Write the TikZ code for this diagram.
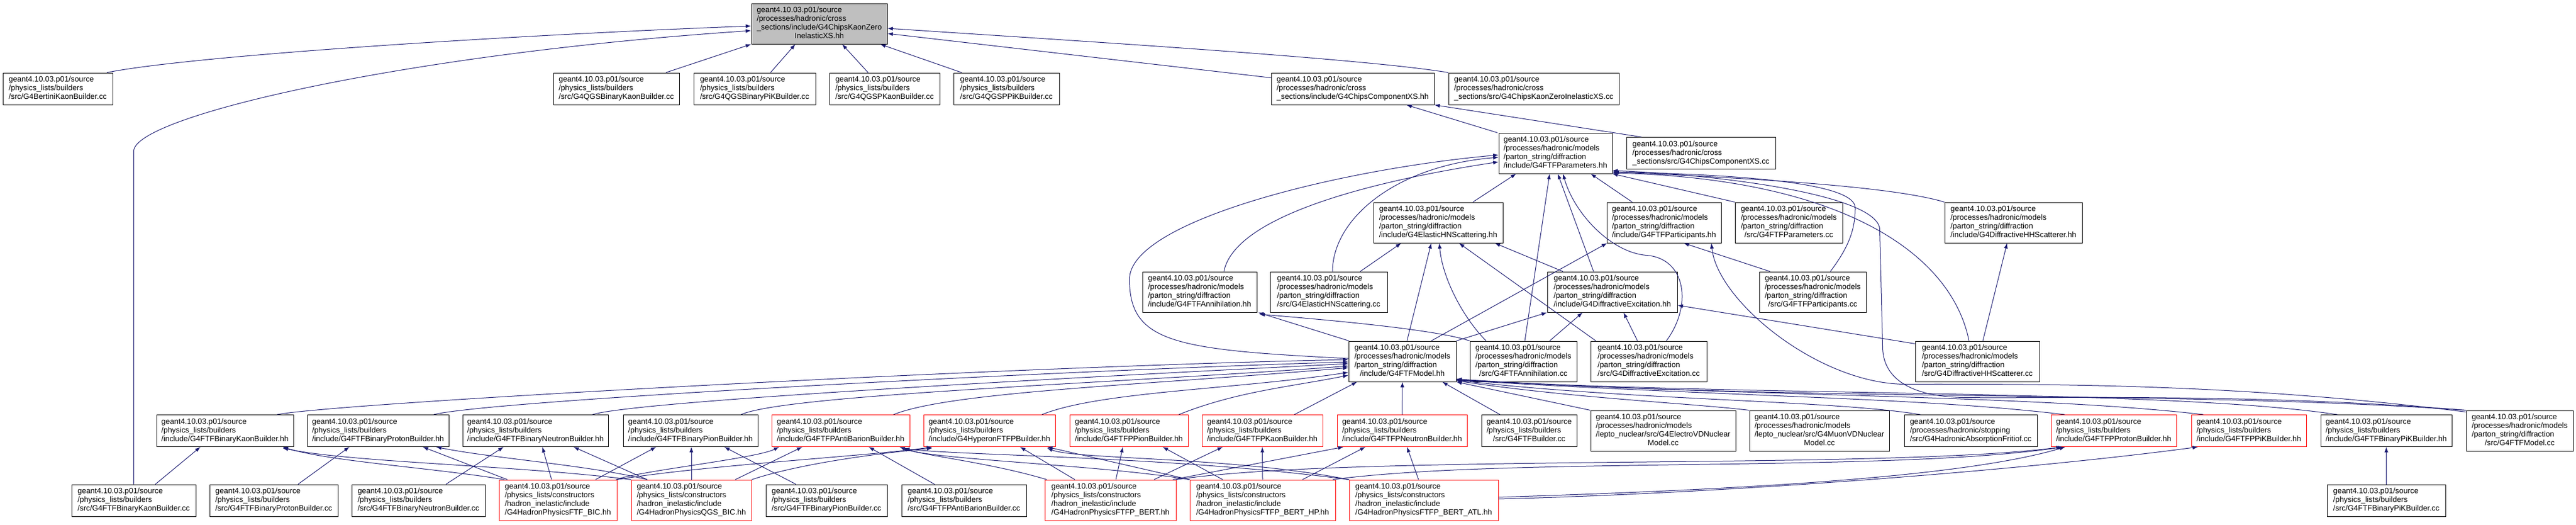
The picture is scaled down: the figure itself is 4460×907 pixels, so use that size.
\documentclass[tikz,border=0pt]{standalone}
\usepackage{fontspec}
\setmainfont{Liberation Sans}
\usetikzlibrary{arrows.meta,calc}
\definecolor{midblue}{HTML}{191970}
\definecolor{rootgray}{HTML}{BFBFBF}
% lines left aligned, last line centred
\newcommand{\doxlabel}[2]{\begin{tabular}{@{}l@{}}#1\\\multicolumn{1}{@{}c@{}}{#2}\end{tabular}}
\begin{document}
\begin{tikzpicture}[x=0.75pt,y=-0.75pt,
	file/.style={rectangle,draw=black,line width=0.75pt,fill=white,inner sep=0pt,minimum width=#1*0.75pt,font=\fontsize{10}{11.25}\selectfont},
	lines3/.style={minimum height=41.25pt},
	lines4/.style={minimum height=52.5pt},
	trunc/.style={draw=red},
	rootfile/.style={fill=rootgray},
	inc/.style={draw=midblue,line width=0.75pt,-{Latex[length=7pt,width=5pt]}}]
\useasboundingbox (0,0) rectangle (4460,907);
% row 1
\path (1418.5,41) node (kzh) [file=235,lines4,rootfile] {\doxlabel{geant4.10.03.p01/source\\/processes/hadronic/cross\\\_sections/include/G4ChipsKaonZero}{InelasticXS.hh}};
% row 2
\path (100,153.5)    node (bkb)     [file=190,lines3] {\doxlabel{geant4.10.03.p01/source\\/physics\_lists/builders}{/src/G4BertiniKaonBuilder.cc}}
      (1067,153.5)   node (qgsbk)   [file=218,lines3] {\doxlabel{geant4.10.03.p01/source\\/physics\_lists/builders}{/src/G4QGSBinaryKaonBuilder.cc}}
      (1306.5,153.5) node (qgsbpik) [file=211,lines3] {\doxlabel{geant4.10.03.p01/source\\/physics\_lists/builders}{/src/G4QGSBinaryPiKBuilder.cc}}
      (1531.5,153.5) node (qgspk)   [file=191,lines3] {\doxlabel{geant4.10.03.p01/source\\/physics\_lists/builders}{/src/G4QGSPKaonBuilder.cc}}
      (1742.5,153.5) node (qgsppik) [file=183,lines3] {\doxlabel{geant4.10.03.p01/source\\/physics\_lists/builders}{/src/G4QGSPPiKBuilder.cc}}
      (2342,153.5)   node (chcxsh)  [file=282,lines3] {\doxlabel{geant4.10.03.p01/source\\/processes/hadronic/cross}{\_sections/include/G4ChipsComponentXS.hh}}
      (2655.5,153.5) node (kzcc)    [file=295,lines3] {\doxlabel{geant4.10.03.p01/source\\/processes/hadronic/cross}{\_sections/src/G4ChipsKaonZeroInelasticXS.cc}};
% row 3
\path (2693,265) node (ftfparh) [file=196,lines4] {\doxlabel{geant4.10.03.p01/source\\/processes/hadronic/models\\/parton\_string/diffraction}{/include/G4FTFParameters.hh}}
      (2945,265) node (chcxscc) [file=258,lines3] {\doxlabel{geant4.10.03.p01/source\\/processes/hadronic/cross}{\_sections/src/G4ChipsComponentXS.cc}};
% row 4
\path (2490,385) node (elhnh)    [file=224,lines4] {\doxlabel{geant4.10.03.p01/source\\/processes/hadronic/models\\/parton\_string/diffraction}{/include/G4ElasticHNScattering.hh}}
      (2881,385) node (ftfparth) [file=198,lines4] {\doxlabel{geant4.10.03.p01/source\\/processes/hadronic/models\\/parton\_string/diffraction}{/include/G4FTFParticipants.hh}}
      (3097,385) node (ftfparcc) [file=186,lines4] {\doxlabel{geant4.10.03.p01/source\\/processes/hadronic/models\\/parton\_string/diffraction}{/src/G4FTFParameters.cc}}
      (3486,385) node (dhhsh)    [file=238,lines4] {\doxlabel{geant4.10.03.p01/source\\/processes/hadronic/models\\/parton\_string/diffraction}{/include/G4DiffractiveHHScatterer.hh}};
% row 5
\path (2077,505)   node (ftfannh)   [file=198,lines4] {\doxlabel{geant4.10.03.p01/source\\/processes/hadronic/models\\/parton\_string/diffraction}{/include/G4FTFAnnihilation.hh}}
      (2300.5,505) node (elhncc)    [file=203,lines4] {\doxlabel{geant4.10.03.p01/source\\/processes/hadronic/models\\/parton\_string/diffraction}{/src/G4ElasticHNScattering.cc}}
      (2791.5,505) node (dexch)     [file=225,lines4] {\doxlabel{geant4.10.03.p01/source\\/processes/hadronic/models\\/parton\_string/diffraction}{/include/G4DiffractiveExcitation.hh}}
      (3138.5,505) node (ftfpartcc) [file=185,lines4] {\doxlabel{geant4.10.03.p01/source\\/processes/hadronic/models\\/parton\_string/diffraction}{/src/G4FTFParticipants.cc}};
% row 6
\path (2428,625)   node (ftfmodh)  [file=186,lines4] {\doxlabel{geant4.10.03.p01/source\\/processes/hadronic/models\\/parton\_string/diffraction}{/include/G4FTFModel.hh}}
      (2637.5,625) node (ftfanncc) [file=185,lines4] {\doxlabel{geant4.10.03.p01/source\\/processes/hadronic/models\\/parton\_string/diffraction}{/src/G4FTFAnnihilation.cc}}
      (2854.5,625) node (dexccc)   [file=201,lines4] {\doxlabel{geant4.10.03.p01/source\\/processes/hadronic/models\\/parton\_string/diffraction}{/src/G4DiffractiveExcitation.cc}}
      (3423.5,625) node (dhhscc)   [file=215,lines4] {\doxlabel{geant4.10.03.p01/source\\/processes/hadronic/models\\/parton\_string/diffraction}{/src/G4DiffractiveHHScatterer.cc}};
% row 7
\path (389.5,745)  node (fbkh)     [file=237,lines3] {\doxlabel{geant4.10.03.p01/source\\/physics\_lists/builders}{/include/G4FTFBinaryKaonBuilder.hh}}
      (654.5,745)  node (fbprh)    [file=245,lines3] {\doxlabel{geant4.10.03.p01/source\\/physics\_lists/builders}{/include/G4FTFBinaryProtonBuilder.hh}}
      (927,745)    node (fbnh)     [file=252,lines3] {\doxlabel{geant4.10.03.p01/source\\/physics\_lists/builders}{/include/G4FTFBinaryNeutronBuilder.hh}}
      (1195.5,745) node (fbpih)    [file=233,lines3] {\doxlabel{geant4.10.03.p01/source\\/physics\_lists/builders}{/include/G4FTFBinaryPionBuilder.hh}}
      (1455.5,745) node (fpabh)    [file=239,lines3,trunc] {\doxlabel{geant4.10.03.p01/source\\/physics\_lists/builders}{/include/G4FTFPAntiBarionBuilder.hh}}
      (1713,745)   node (hypfh)    [file=228,lines3,trunc] {\doxlabel{geant4.10.03.p01/source\\/physics\_lists/builders}{/include/G4HyperonFTFPBuilder.hh}}
      (1954.5,745) node (fppih)    [file=205,lines3,trunc] {\doxlabel{geant4.10.03.p01/source\\/physics\_lists/builders}{/include/G4FTFPPionBuilder.hh}}
      (2185.5,745) node (fpkh)     [file=209,lines3,trunc] {\doxlabel{geant4.10.03.p01/source\\/physics\_lists/builders}{/include/G4FTFPKaonBuilder.hh}}
      (2427.5,745) node (fpnh)     [file=225,lines3,trunc] {\doxlabel{geant4.10.03.p01/source\\/physics\_lists/builders}{/include/G4FTFPNeutronBuilder.hh}}
      (2647.5,745) node (ftfbcc)   [file=165,lines3] {\doxlabel{geant4.10.03.p01/source\\/physics\_lists/builders}{/src/G4FTFBuilder.cc}}
      (2879.5,745) node (evdcc)    [file=251,lines4] {\doxlabel{geant4.10.03.p01/source\\/processes/hadronic/models\\/lepto\_nuclear/src/G4ElectroVDNuclear}{Model.cc}}
      (3150,745)   node (mvdcc)    [file=242,lines4] {\doxlabel{geant4.10.03.p01/source\\/processes/hadronic/models\\/lepto\_nuclear/src/G4MuonVDNuclear}{Model.cc}}
      (3412,745)   node (habscc)   [file=230,lines3] {\doxlabel{geant4.10.03.p01/source\\/processes/hadronic/stopping}{/src/G4HadronicAbsorptionFritiof.cc}}
      (3659.5,745) node (fpprh)    [file=217,lines3,trunc] {\doxlabel{geant4.10.03.p01/source\\/physics\_lists/builders}{/include/G4FTFPProtonBuilder.hh}}
      (3893.5,745) node (fppikh)   [file=199,lines3,trunc] {\doxlabel{geant4.10.03.p01/source\\/physics\_lists/builders}{/include/G4FTFPPiKBuilder.hh}}
      (4131.5,745) node (fbpikh)   [file=227,lines3] {\doxlabel{geant4.10.03.p01/source\\/physics\_lists/builders}{/include/G4FTFBinaryPiKBuilder.hh}}
      (4362.5,745) node (ftfmodcc) [file=185,lines4] {\doxlabel{geant4.10.03.p01/source\\/processes/hadronic/models\\/parton\_string/diffraction}{/src/G4FTFModel.cc}};
% row 8
\path (231.5,865.5)  node (fbkcc)   [file=215,lines3] {\doxlabel{geant4.10.03.p01/source\\/physics\_lists/builders}{/src/G4FTFBinaryKaonBuilder.cc}}
      (474,865.5)    node (fbprcc)  [file=222,lines3] {\doxlabel{geant4.10.03.p01/source\\/physics\_lists/builders}{/src/G4FTFBinaryProtonBuilder.cc}}
      (724.5,865.5)  node (fbncc)   [file=231,lines3] {\doxlabel{geant4.10.03.p01/source\\/physics\_lists/builders}{/src/G4FTFBinaryNeutronBuilder.cc}}
      (966,865)      node (hftfbic) [file=204,lines4,trunc] {\doxlabel{geant4.10.03.p01/source\\/physics\_lists/constructors\\/hadron\_inelastic/include}{/G4HadronPhysicsFTF\_BIC.hh}}
      (1197,865)     node (hqgsbic) [file=208,lines4,trunc] {\doxlabel{geant4.10.03.p01/source\\/physics\_lists/constructors\\/hadron\_inelastic/include}{/G4HadronPhysicsQGS\_BIC.hh}}
      (1431,865.5)   node (fbpicc)  [file=210,lines3] {\doxlabel{geant4.10.03.p01/source\\/physics\_lists/builders}{/src/G4FTFBinaryPionBuilder.cc}}
      (1669,865.5)   node (fpabcc)  [file=216,lines3] {\doxlabel{geant4.10.03.p01/source\\/physics\_lists/builders}{/src/G4FTFPAntiBarionBuilder.cc}}
      (1922.5,865)   node (hfb)     [file=227,lines4,trunc] {\doxlabel{geant4.10.03.p01/source\\/physics\_lists/constructors\\/hadron\_inelastic/include}{/G4HadronPhysicsFTFP\_BERT.hh}}
      (2186,865)     node (hfbhp)   [file=252,lines4,trunc] {\doxlabel{geant4.10.03.p01/source\\/physics\_lists/constructors\\/hadron\_inelastic/include}{/G4HadronPhysicsFTFP\_BERT\_HP.hh}}
      (2465,865)     node (hfbatl)  [file=258,lines4,trunc] {\doxlabel{geant4.10.03.p01/source\\/physics\_lists/constructors\\/hadron\_inelastic/include}{/G4HadronPhysicsFTFP\_BERT\_ATL.hh}}
      (4131.5,865.5) node (fbpikcc) [file=205,lines3] {\doxlabel{geant4.10.03.p01/source\\/physics\_lists/builders}{/src/G4FTFBinaryPiKBuilder.cc}};
% includes of the kaon zero cross section
\draw[inc] ($(bkb.north)+(85,0)$) .. controls +(150,-30) and +(-400,15) .. ($(kzh.west)+(0,4)$);
\draw[inc] (fbkcc.north) -- ++(0,-576) .. controls +(0,-60) and +(-600,40) .. ($(kzh.west)+(0,12)$);
\draw[inc] ($(qgsbk.north)+(86,0)$) -- (kzh.south west);
\draw[inc] ($(qgsbpik.north)+(27.5,0)$) -- ($(kzh.south)+(-41.5,0)$);
\draw[inc] ($(qgspk.north)+(-28.5,0)$) -- ($(kzh.south)+(39.5,0)$);
\draw[inc] ($(qgsppik.north)+(-77.5,0)$) -- ($(kzh.south)+(105.5,0)$);
\draw[inc] ($(chcxsh.north west)+(0,9)$) -- ($(kzh.east)+(0,17)$);
\draw[inc] (kzcc.north west) .. controls +(-150,-25) and +(300,20) .. ($(kzh.east)+(0,8)$);
% component cross section
\draw[inc] ($(ftfparh.north west)+(-2,0)$) -- ($(chcxsh.south)+(93,0)$);
\draw[inc] ($(chcxscc.north)+(-103,0)$) -- (chcxsh.south east);
% FTF parameters
\draw[inc] ($(elhnh.north)+(60,0)$) -- ($(ftfparh.south)+(-68,0)$);
\draw[inc] ($(ftfparth.north)+(-55,0)$) -- ($(ftfparh.south)+(61,0)$);
\draw[inc] (ftfparcc.north west) -- (ftfparh.south east);
\draw[inc] (dhhsh.north west) .. controls +(-100,-30) and +(200,10) .. ($(ftfparh.east)+(0,32)$);
\draw[inc] ($(ftfannh.north)+(42,0)$) .. controls +(20,-100) and +(-200,30) .. ($(ftfparh.west)+(0,15)$);
\draw[inc] ($(elhncc.north)+(6.5,0)$) .. controls +(0,-90) and +(-180,15) .. ($(ftfparh.west)+(0,7)$);
\draw[inc] ($(ftfmodh.west)+(0,-5)$) .. controls +(-300,-15) and +(0,110) .. ++(-379,-137) .. controls +(0,-100) and +(-280,25) .. ($(ftfparh.west)+(0,3)$);
\draw[inc] ($(ftfanncc.north)+(2.5,0)$) -- ($(ftfparh.south)+(-10,0)$);
\draw[inc] ($(dexch.north)+(-32.5,0)$) -- ($(ftfparh.south)+(4,0)$);
\draw[inc] ($(dexccc.north)+(30.5,0)$) .. controls +(45,-60) and +(70,5) .. ++(-35,-148) .. controls +(-60,-5) and +(20,70) .. ($(ftfparh.south)+(13,0)$);
\draw[inc] ($(ftfpartcc.north)+(30.5,0)$) .. controls +(30,-40) and +(0,40) .. ++(43,-110) .. controls +(0,-40) and +(250,5) .. ($(ftfparh.south east)+(2,-3)$);
\draw[inc] ($(dhhscc.north)+(-14.5,0)$) .. controls +(-30,-150) and +(400,10) .. ($(ftfparh.east)+(0,34)$);
\draw[inc] (ftfmodcc.north west) .. controls +(-370,-30) and +(150,2) .. ++(-870,-22) .. controls +(-100,-2) and +(0,50) .. ++(-140,-88) -- ++(-5,-200) .. controls +(5,-60) and +(200,8) .. ($(ftfparh.east)+(0,30)$);
% elastic scattering
\draw[inc] ($(dexch.north)+(-85.5,0)$) -- ($(elhnh.south)+(98,0)$);
\draw[inc] ($(elhncc.north)+(54.5,0)$) -- ($(elhnh.south)+(-64,0)$);
\draw[inc] ($(ftfmodh.north)+(8,0)$) -- ($(elhnh.south)+(-12,0)$);
\draw[inc] ($(ftfanncc.north)+(-64.5,0)$) .. controls +(-40,-40) and +(5,60) .. ($(elhnh.south)+(2,0)$);
\draw[inc] ($(dexccc.north)+(-91.5,0)$) -- ($(elhnh.south)+(36,0)$);
% participants
\draw[inc] ($(ftfmodh.north)+(50,0)$) -- ($(ftfparth.south west)+(1,0)$);
\draw[inc] ($(ftfpartcc.north west)+(19,0)$) -- ($(ftfparth.south)+(34,0)$);
\draw[inc] ($(ftfmodcc.north west)+(0,3)$) .. controls +(-400,-50) and +(250,0) .. ++(-970,-48) .. controls +(-150,0) and +(10,100) .. ($(ftfparth.south)+(82,0)$);
% annihilation
\draw[inc] ($(ftfmodh.north west)+(1,0)$) -- ($(ftfannh.south east)+(2,0)$);
\draw[inc] (ftfanncc.north west) .. controls +(-60,-20) and +(120,10) .. ($(ftfannh.south east)+(4,3)$);
% diffractive excitation
\draw[inc] (ftfmodh.north east) -- (dexch.south west);
\draw[inc] ($(ftfanncc.north)+(45.5,0)$) -- ($(dexch.south)+(-51.5,0)$);
\draw[inc] ($(dexccc.north)+(-19.5,0)$) -- ($(dexch.south)+(19.5,0)$);
\draw[inc] ($(dhhscc.north west)+(0,5)$) -- ($(dexch.east)+(0,23)$);
\draw[inc] ($(dhhscc.north)+(9.5,0)$) -- ($(dhhsh.south)+(-11,0)$);
% FTF model
\draw[inc] ($(fbkh.north)+(90.5,0)$) .. controls +(100,-20) and +(-600,12) .. ($(ftfmodh.west)+(0,-3)$);
\draw[inc] ($(fbprh.north)+(96.5,0)$) .. controls +(100,-25) and +(-500,15) .. ($(ftfmodh.west)+(0,1)$);
\draw[inc] ($(fbnh.north)+(99,0)$) .. controls +(80,-25) and +(-400,20) .. ($(ftfmodh.west)+(0,4)$);
\draw[inc] ($(fbpih.north)+(87.5,0)$) .. controls +(80,-35) and +(-400,30) .. ($(ftfmodh.west)+(0,8)$);
\draw[inc] ($(fpabh.north)+(91.5,0)$) .. controls +(100,-40) and +(-350,30) .. ($(ftfmodh.west)+(0,11)$);
\draw[inc] ($(hypfh.north)+(91,0)$) .. controls +(100,-40) and +(-200,30) .. ($(ftfmodh.west)+(0,19)$);
\draw[inc] ($(fppih.north)+(86.5,0)$) .. controls +(100,-40) and +(-100,20) .. ($(ftfmodh.west)+(0,24)$);
\draw[inc] ($(fpkh.north)+(55.5,0)$) -- ($(ftfmodh.south west)+(15,0)$);
\draw[inc] (fpnh.north) -- (ftfmodh.south);
\draw[inc] ($(ftfbcc.north)+(-50.5,0)$) -- ($(ftfmodh.south)+(69,0)$);
\draw[inc] (evdcc.north west) -- (ftfmodh.south east);
\draw[inc] (mvdcc.north west) .. controls +(-100,-12) and +(200,30) .. ($(ftfmodh.south east)+(0,-2)$);
\draw[inc] ($(habscc.north west)+(28,0)$) .. controls +(-150,-25) and +(300,35) .. ($(ftfmodh.south east)+(0,-3)$);
\draw[inc] ($(fpprh.north west)+(24,0)$) .. controls +(-250,-30) and +(500,30) .. ($(ftfmodh.south east)+(0,-3)$);
\draw[inc] ($(fppikh.north west)+(21,0)$) .. controls +(-300,-35) and +(500,30) .. ($(ftfmodh.south east)+(0,-4)$);
\draw[inc] ($(fbpikh.north west)+(29,0)$) .. controls +(-300,-45) and +(500,30) .. ($(ftfmodh.south east)+(0,-4)$);
\draw[inc] (ftfmodcc.north west) .. controls +(-500,-35) and +(600,40) .. ($(ftfmodh.south east)+(0,-5)$);
% builder sources
\draw[inc] ($(fbkcc.north)+(37.5,0)$) -- ($(fbkh.south)+(-42.5,0)$);
\draw[inc] ($(fbprcc.north)+(42,0)$) -- ($(fbprh.south)+(-49.5,0)$);
\draw[inc] ($(fbncc.north)+(47.5,0)$) -- ($(fbnh.south)+(-55,0)$);
\draw[inc] ($(fbpicc.north)+(-53,0)$) -- ($(fbpih.south)+(58.5,0)$);
\draw[inc] ($(fpabcc.north)+(-51,0)$) -- ($(fpabh.south)+(48.5,0)$);
\draw[inc] (fbpikcc.north) -- (fbpikh.south);
% FTF_BIC and QGS_BIC
\draw[inc] ($(hftfbic.north west)+(10,0)$) .. controls +(-120,-20) and +(80,25) .. ($(fbkh.south east)+(-19,0)$);
\draw[inc] ($(hftfbic.north west)+(15,0)$) -- ($(fbprh.south)+(77.5,0)$);
\draw[inc] ($(hftfbic.north)+(-11,0)$) -- ($(fbnh.south)+(12,0)$);
\draw[inc] ($(hftfbic.north)+(65,0)$) -- ($(fbpih.south)+(-59.5,0)$);
\draw[inc] ($(hftfbic.north east)+(-2,0)$) .. controls +(40,-15) and +(-40,20) .. ($(fpabh.south)+(-106.5,0)$);
\draw[inc] (hftfbic.north east) .. controls +(150,-25) and +(-100,15) .. ($(hypfh.south)+(-99,0)$);
\draw[inc] (hqgsbic.north west) .. controls +(-200,-25) and +(120,25) .. ($(fbkh.south east)+(-19,2)$);
\draw[inc] ($(hqgsbic.north west)+(28,0)$) .. controls +(-100,-25) and +(100,20) .. ($(fbprh.south)+(100.5,0)$);
\draw[inc] ($(hqgsbic.north west)+(28,0)$) -- ($(fbnh.south)+(66,0)$);
\draw[inc] (hqgsbic.north) -- ($(fbpih.south)+(1.5,0)$);
\draw[inc] ($(hqgsbic.north)+(76,0)$) -- ($(fpabh.south)+(-66.5,0)$);
\draw[inc] (hqgsbic.north east) .. controls +(60,-20) and +(-150,15) .. ($(hypfh.south)+(-99,2)$);
% FTFP_BERT family
\draw[inc] ($(hfb.north west)+(4,0)$) .. controls +(-100,-30) and +(40,15) .. ($(fpabh.south east)+(-18,0)$);
\draw[inc] ($(hfb.north)+(-61.5,0)$) -- ($(hypfh.south)+(53,0)$);
\draw[inc] ($(hfb.north)+(9.5,0)$) -- ($(fppih.south)+(-10.5,0)$);
\draw[inc] ($(hfb.north)+(75.5,0)$) -- ($(fpkh.south)+(-68.5,0)$);
\draw[inc] ($(hfb.north east)+(-6,0)$) -- ($(fpnh.south)+(-101.5,0)$);
\draw[inc] (hfb.north east) .. controls +(300,-45) and +(-300,40) .. ($(fpprh.south west)+(19,0)$);
\draw[inc] (hfbhp.north west) .. controls +(-150,-25) and +(60,20) .. ($(fpabh.south east)+(-14,2)$);
\draw[inc] (hfbhp.north west) -- ($(hypfh.south)+(100,0)$);
\draw[inc] ($(hfbhp.north)+(-69,0)$) -- ($(fppih.south)+(58.5,0)$);
\draw[inc] (hfbhp.north) -- (fpkh.south);
\draw[inc] ($(hfbhp.north)+(69,0)$) -- ($(fpnh.south)+(-63.5,0)$);
\draw[inc] ($(hfbhp.north east)+(-5,0)$) .. controls +(300,-40) and +(-300,45) .. ($(fpprh.south west)+(22,0)$);
\draw[inc] (hfbatl.north west) .. controls +(-300,-40) and +(100,12) .. ($(fpabh.south east)+(-10,3)$);
\draw[inc] (hfbatl.north west) .. controls +(-200,-40) and +(50,20) .. ($(hypfh.south)+(100,2)$);
\draw[inc] ($(hfbatl.north)+(-9,0)$) -- ($(fpnh.south)+(8.5,0)$);
\draw[inc] ($(hfbatl.east)+(0,-5)$) .. controls +(300,-10) and +(-200,60) .. ($(fpprh.south west)+(25,0)$);
\draw[inc] ($(hfbatl.east)+(0,-2)$) .. controls +(400,-10) and +(-300,40) .. ($(fppikh.south west)+(12,0)$);
\end{tikzpicture}
\end{document}
